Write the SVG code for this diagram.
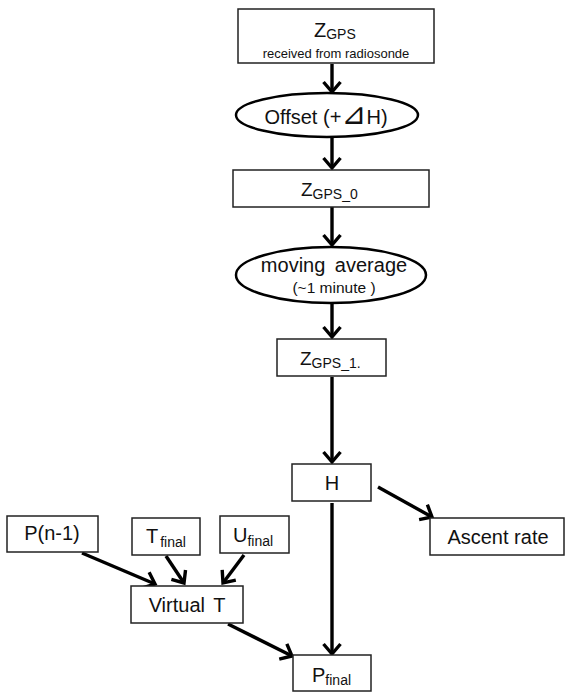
<svg xmlns="http://www.w3.org/2000/svg" width="565" height="693" viewBox="0 0 565 693">
<style>
.box{fill:#fff;stroke:#222;stroke-width:1.5}
.ell{fill:#fff;stroke:#000;stroke-width:2.5}
.t{font-family:"Liberation Sans",Arial,sans-serif;fill:#111}
.c{stroke:#000;stroke-width:3.4;fill:none;marker-end:url(#ah)}
</style>
<defs>
<marker id="ah" markerUnits="userSpaceOnUse" markerWidth="24" markerHeight="24" refX="0" refY="0" viewBox="-14 -12 18 24" orient="auto" overflow="visible">
<path d="M-10,-8.5 L0,0 L-10,8.5" fill="none" stroke="#000" stroke-width="3.4" stroke-linecap="butt" stroke-linejoin="miter"/>
</marker>
</defs>
<g id="connectors">
<line class="c" x1="332" y1="64" x2="332" y2="92"/>
<line class="c" x1="332" y1="137" x2="332" y2="168"/>
<line class="c" x1="332" y1="207" x2="332" y2="245"/>
<line class="c" x1="332" y1="303" x2="332" y2="337"/>
<line class="c" x1="332" y1="377" x2="332" y2="462"/>
<line class="c" x1="378" y1="487" x2="432" y2="517"/>
<line class="c" x1="332" y1="503" x2="332" y2="654"/>
<line class="c" x1="82" y1="553" x2="155" y2="584"/>
<line class="c" x1="166" y1="556" x2="184" y2="583"/>
<line class="c" x1="244" y1="555" x2="223" y2="583"/>
<line class="c" x1="228" y1="624" x2="292" y2="656"/>
</g>
<g id="zgps">
<rect class="box" x="238" y="9" width="196" height="54"/>
<text class="t" x="314" y="37" font-size="20">Z<tspan font-size="14" dy="2">GPS</tspan></text>
<text class="t" x="336" y="58" font-size="13" text-anchor="middle">received from radiosonde</text>
</g>
<g id="offset">
<ellipse class="ell" cx="327" cy="115" rx="91" ry="22"/>
<text class="t" x="326" y="124" font-size="20" text-anchor="middle">Offset (+<tspan font-family="DejaVu Sans,sans-serif" font-size="30">⊿</tspan>H)</text>
</g>
<g id="zgps0">
<rect class="box" x="233" y="170" width="196" height="37"/>
<text class="t" x="301" y="196" font-size="19">Z<tspan font-size="14" dy="3">GPS_0</tspan></text>
</g>
<g id="movavg">
<ellipse class="ell" cx="331" cy="275" rx="95" ry="28"/>
<text class="t" x="334" y="272" font-size="20" text-anchor="middle" word-spacing="4">moving average</text>
<text class="t" x="334" y="293" font-size="15.5" text-anchor="middle">(~1 minute )</text>
</g>
<g id="zgps1">
<rect class="box" x="277" y="339" width="109" height="37"/>
<text class="t" x="300" y="365" font-size="19">Z<tspan font-size="14" dy="3">GPS_1.</tspan></text>
</g>
<g id="h">
<rect class="box" x="292" y="464" width="79" height="37"/>
<text class="t" x="332" y="490" font-size="20" text-anchor="middle">H</text>
</g>
<g id="ascent">
<rect class="box" x="430" y="518" width="134" height="37"/>
<text class="t" x="498" y="544" font-size="20" text-anchor="middle">Ascent rate</text>
</g>
<g id="pn1">
<rect class="box" x="7" y="516" width="91" height="36"/>
<text class="t" x="52" y="540" font-size="20" text-anchor="middle">P(n-1)</text>
</g>
<g id="tfinal">
<rect class="box" x="132" y="518" width="68" height="37"/>
<text class="t" x="146" y="543" font-size="20">T<tspan font-size="14" dy="4" dx="2">final</tspan></text>
</g>
<g id="ufinal">
<rect class="box" x="220" y="516" width="69" height="37"/>
<text class="t" x="233" y="542" font-size="20">U<tspan font-size="14" dy="4">final</tspan></text>
</g>
<g id="virtualt">
<rect class="box" x="131" y="586" width="112" height="37"/>
<text class="t" x="187" y="612" font-size="20" text-anchor="middle" word-spacing="3">Virtual T</text>
</g>
<g id="pfinal">
<rect class="box" x="293" y="655" width="78" height="36"/>
<text class="t" x="312" y="682" font-size="20">P<tspan font-size="14" dy="3">final</tspan></text>
</g>
</svg>
